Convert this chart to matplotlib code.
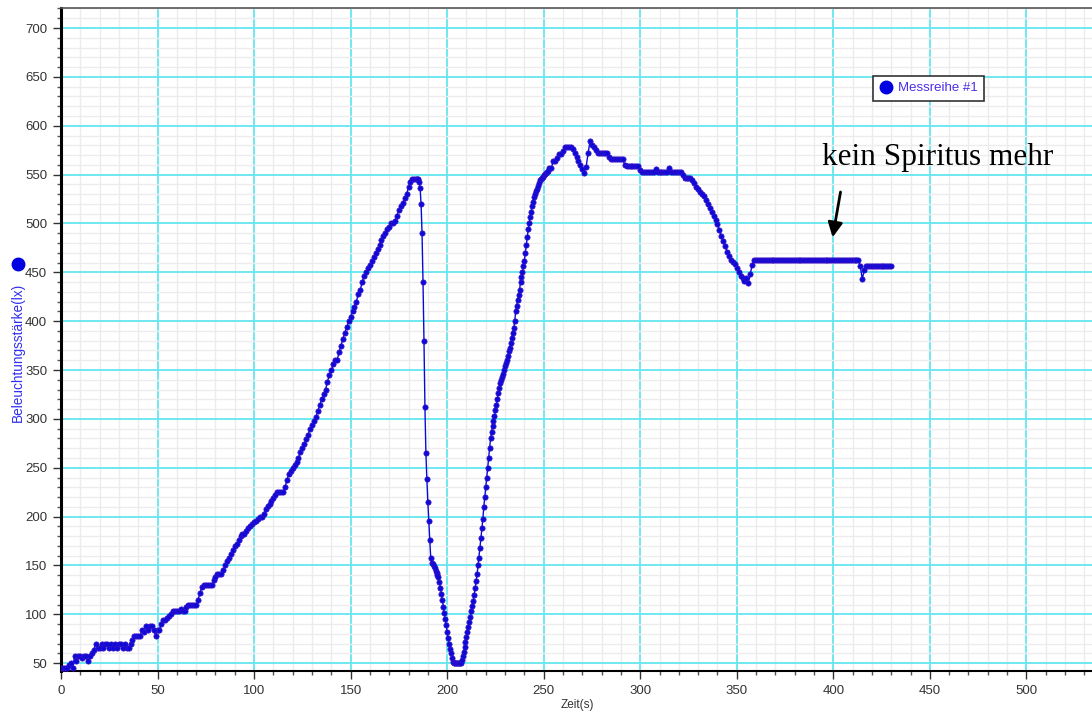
import numpy as np
import matplotlib
matplotlib.use('Agg')
import matplotlib.pyplot as plt
from matplotlib.ticker import MultipleLocator
from matplotlib.lines import Line2D

# Messreihe #1 -- Beleuchtungsstaerke (lx) ueber Zeit (s)
# 0 .. 184 s, one sample per second
v_part1 = [45, 45, 45, 45, 48, 50, 45, 57, 52, 57, 57, 55, 57, 57, 52, 57, 60, 64, 70, 66,
           66, 70, 66, 70, 70, 66, 70, 66, 70, 66, 70, 70, 66, 70, 66, 66, 70, 74, 78, 78,
           78, 78, 84, 82, 88, 84, 88, 88, 84, 78, 84, 84, 90, 94, 94, 96, 98, 100, 103, 103,
           103, 103, 105, 103, 103, 107, 110, 110, 110, 110, 110, 115, 122, 128, 130, 130, 130, 130, 130, 135,
           138, 141, 141, 141, 145, 150, 155, 158, 162, 166, 170, 172, 176, 180, 182, 182, 185, 188, 190, 192,
           194, 196, 198, 200, 200, 203, 208, 211, 213, 216, 219, 222, 225, 225, 225, 225, 230, 237, 244, 247,
           250, 253, 256, 260, 266, 270, 274, 279, 284, 290, 294, 298, 302, 308, 314, 320, 325, 330, 338, 345,
           350, 356, 360, 360, 368, 375, 382, 388, 394, 400, 404, 410, 415, 420, 428, 432, 440, 446, 450, 454,
           457, 462, 466, 470, 474, 478, 483, 487, 490, 494, 496, 500, 500, 503, 508, 514, 518, 521, 526, 530,
           537, 542, 546, 546, 546]
# 184.5 .. 252 s, two samples per second
v_part2 = [546, 546, 542, 536, 520, 490, 440, 380, 312, 265, 238, 215, 195, 176, 158, 153, 151, 149, 147, 144,
           142, 140, 138, 133, 127, 121, 115, 108, 101, 95, 89, 82, 76, 70, 65, 60, 55, 51, 50, 50,
           50, 50, 50, 50, 50, 50, 53, 57, 61, 67, 72, 77, 82, 87, 92, 97, 103, 109, 114,
           120, 127, 134, 141, 150, 158, 168, 178, 188, 198, 210, 220, 230, 240, 250, 260, 270, 280, 287, 293,
           298, 303, 309, 314, 320, 326, 332, 337, 340, 343, 346, 350, 354, 357, 360, 364, 369, 373, 378, 383,
           388, 393, 400, 410, 416, 422, 427, 432, 440, 445, 450, 456, 462, 470, 478, 486, 494, 500, 507, 512,
           518, 522, 527, 530, 533, 535, 538, 541, 544, 546, 547, 548, 550, 551, 552, 553, 554]
# 253 .. 430 s, one sample per second
v_part3 = [557, 557, 564, 564, 567, 571, 571, 574, 578, 578, 578, 578, 576, 572, 568, 564, 560, 556, 552, 558,
           572, 584, 580, 578, 575, 572, 572, 572, 572, 572, 572, 568, 566, 566, 566, 566, 566, 566, 566, 560,
           559, 559, 559, 559, 559, 559, 559, 555, 553, 553, 553, 553, 553, 553, 553, 556, 553, 553, 553, 553,
           553, 553, 557, 553, 553, 553, 553, 553, 553, 550, 547, 547, 547, 547, 544, 541, 537, 535, 532, 530,
           528, 524, 520, 516, 512, 508, 504, 499, 493, 487, 482, 477, 471, 467, 463, 461, 459, 454, 450, 446,
           444, 441, 444, 439, 448, 458, 463, 463, 463, 463, 463, 463, 463, 463, 463, 463, 463, 463, 463, 463,
           463, 463, 463, 463, 463, 463, 463, 463, 463, 463, 463, 463, 463, 463, 463, 463, 463, 463, 463, 463,
           463, 463, 463, 463, 463, 463, 463, 463, 463, 463, 463, 463, 463, 463, 463, 463, 463, 463, 463, 463,
           463, 456, 443, 452, 456, 456, 456, 456, 456, 456, 456, 456, 456, 456, 456, 456, 456, 456]

t_part1 = np.arange(0, len(v_part1), 1.0)
t_part2 = 184.5 + 0.5 * np.arange(len(v_part2))
t_part3 = np.arange(253, 253 + len(v_part3), 1.0)

zeit = np.concatenate([t_part1, t_part2, t_part3])
lux = np.array(v_part1 + v_part2 + v_part3, dtype=float)

blue = '#0a0ad8'
cyan = '#66e6f0'

fig = plt.figure(figsize=(10.92, 7.13), dpi=100)
ax = fig.add_axes([61 / 1092, 42 / 713, 1 - 61 / 1092, 663 / 713])

ax.plot(zeit, lux, '-', color=blue, lw=1, marker='o', markersize=3.8,
        markerfacecolor=blue, markeredgecolor='#3a10c8', markeredgewidth=0.5, zorder=3)

ax.set_xlim(0, 534)
ax.set_ylim(42, 720.5)
ax.xaxis.set_major_locator(MultipleLocator(50))
ax.xaxis.set_minor_locator(MultipleLocator(10))
ax.yaxis.set_major_locator(MultipleLocator(50))
ax.yaxis.set_minor_locator(MultipleLocator(10))

ax.grid(which='minor', color='#ececec', lw=1, zorder=0)
ax.grid(which='major', color=cyan, lw=1.3, zorder=1)
ax.set_axisbelow(True)

ax.spines['right'].set_visible(False)
ax.spines['top'].set_color('#555555')
ax.spines['top'].set_linewidth(1.2)
ax.spines['left'].set_linewidth(2.2)
ax.spines['bottom'].set_linewidth(1.5)

ax.tick_params(which='major', length=6, width=1, color='#333333', labelsize=9.5,
               labelcolor='#333333', pad=4)
ax.tick_params(which='minor', length=3, width=1, color='#555555')
for lab in ax.get_xticklabels() + ax.get_yticklabels():
    lab.set_fontfamily('Liberation Sans')

fig.text(577 / 1092, 1 - 705 / 713, 'Zeit(s)', ha='center', va='center',
         fontsize=8.5, color='#333333', family='Liberation Sans')
fig.text(18 / 1092, 1 - 352 / 713, 'Beleuchtungsstärke(lx)', rotation=90,
         ha='center', va='center', fontsize=9.8, color='#3030f0', family='Liberation Sans')
fig.add_artist(Line2D([18 / 1092], [1 - 264 / 713], marker='o', markersize=9,
                      color='#0000e0', transform=fig.transFigure))

proxy = Line2D([], [], marker='o', linestyle='none', markersize=9, color='#0000e0')
leg = ax.legend([proxy], ['Messreihe #1'], loc='upper left', bbox_to_anchor=(0.781, 0.908),
                frameon=True, fancybox=False, edgecolor='#333333', framealpha=1,
                handletextpad=0.4, borderpad=0.5, handlelength=1.0,
                prop={'family': 'Liberation Sans', 'size': 9.5})
leg.get_frame().set_linewidth(1.2)
for txt in leg.get_texts():
    txt.set_color('#4a30e8')

ax.text(394, 560, 'kein Spiritus mehr', fontsize=22.5, family='Liberation Serif',
        color='black', va='baseline', ha='left')
ax.annotate('', xy=(399.4, 483), xytext=(404, 535),
            arrowprops=dict(arrowstyle='-|>', lw=2, color='black', mutation_scale=22))

fig.savefig('out.png', dpi=100)
